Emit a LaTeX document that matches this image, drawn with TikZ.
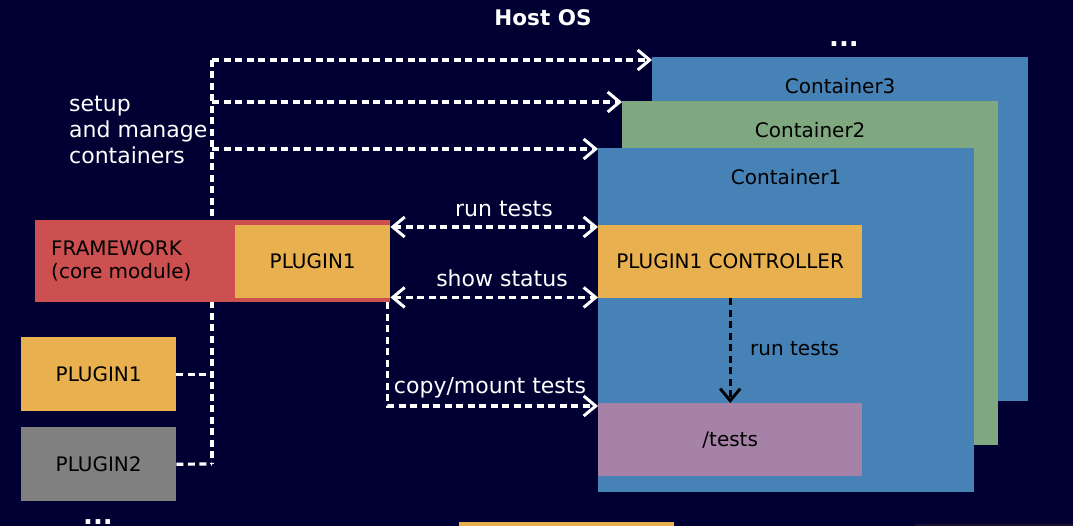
\documentclass[tikz,border=0pt]{standalone}
\usepackage{fontspec}
\setmainfont{DejaVu Sans}
\usetikzlibrary{calc,arrows.meta}

\definecolor{hostbg}{RGB}{0,0,51}
\definecolor{ctblue}{RGB}{70,130,182}
\definecolor{ctgreen}{RGB}{128,168,128}
\definecolor{plorange}{RGB}{232,176,78}
\definecolor{fwred}{RGB}{205,80,80}
\definecolor{tspurple}{RGB}{166,130,168}
\definecolor{plgray}{RGB}{128,128,128}
\definecolor{shadow}{RGB}{30,14,50}

\tikzset{
  box/.style={rectangle, draw=none, inner sep=0pt, anchor=north west},
  boxtext/.style={text=black, font=\fontsize{20}{23}\selectfont},
  lbl/.style={text=white, font=\fontsize{22}{26}\selectfont, inner sep=0pt},
  dots/.style={text=white, font=\fontsize{26}{26}\selectfont\bfseries, inner sep=0pt},
  conn/.style={white, line width=3.2pt, dash pattern=on 7pt off 4.5pt},
  tip/.style={Straight Barb[length=12pt,width=20pt,line width=3pt]},
  arr/.style={-{Straight Barb[length=12pt,width=20pt,line width=3pt]}},
  darr/.style={{Straight Barb[length=12pt,width=20pt,line width=3pt]}-{Straight Barb[length=12pt,width=20pt,line width=3pt]}}
}

\begin{document}
\begin{tikzpicture}[x=1pt,y=-1pt]
  \fill[hostbg] (0,0) rectangle (1073,526);
  \useasboundingbox (0,0) rectangle (1073,526);

  \node[lbl, font=\fontsize{21.5}{24}\selectfont\bfseries] (host) at (543,18) {Host OS};
  \node[dots] (topdots) at (844,44) {...};

  % containers, back to front
  \node[box, fill=ctblue, minimum width=376pt, minimum height=344pt] (c3) at (652,57) {};
  \node[box, fill=ctgreen, minimum width=376pt, minimum height=344pt] (c2) at (622,101) {};
  \node[box, fill=ctblue, minimum width=376pt, minimum height=344pt] (c1) at (598,148) {};
  \node[boxtext] at ($(c3.north)+(0,29)$) {Container3};
  \node[boxtext] at ($(c2.north)+(0,29)$) {Container2};
  \node[boxtext] at ($(c1.north)+(0,29)$) {Container1};

  \node[box, fill=plorange, minimum width=264pt, minimum height=73pt] (ctrl) at (598,225) {};
  \node[boxtext] at (ctrl.center) {PLUGIN1 CONTROLLER};
  \node[box, fill=tspurple, minimum width=264pt, minimum height=73pt] (tests) at (598,403) {};
  \node[boxtext] at (tests.center) {/tests};

  % bus line to the containers
  \coordinate (bustop) at (212,60);
  \coordinate (busbot) at (212,464);
  \draw[conn] (bustop) -- (busbot);
  \draw[conn,arr] (bustop) -- (bustop -| c3.west);
  \draw[conn,arr] (212,102) -- ($(c2.north west)+(0,1)$);
  \draw[conn,arr] (212,149) -- ($(c1.north west)+(0,1)$);
  \node[lbl, anchor=west, align=left] (setup) at (69,130) {setup\\and manage\\containers};

  % framework with its plugin
  \node[box, fill=fwred, minimum width=355pt, minimum height=82pt] (fw) at (35,220) {};
  \node[boxtext, anchor=west, align=left, inner sep=0pt] at (51,261) {FRAMEWORK\\(core module)};
  \node[box, fill=plorange, minimum width=155pt, minimum height=73pt] (fp1) at (235,225) {};
  \node[boxtext] at (fp1.center) {PLUGIN1};

  % plugins
  \node[box, fill=plorange, minimum width=155pt, minimum height=74pt] (p1) at (21,337) {};
  \node[boxtext] at (p1.center) {PLUGIN1};
  \node[box, fill=plgray, minimum width=155pt, minimum height=74pt] (p2) at (21,427) {};
  \node[boxtext] at (p2.center) {PLUGIN2};
  \draw[conn] (p1.east) -- (p1.east -| bustop);
  \draw[conn] (p2.east) -- (busbot);
  \node[dots] (botdots) at (98,522) {...};

  % framework <-> controller
  \draw[conn,darr] ($(fp1.north east)+(0,2)$) -- ($(ctrl.north west)+(0,2)$);
  \node[lbl] at (504,209) {run tests};
  \draw[conn,darr] ($(fp1.south east)+(0,-1)$) -- ($(ctrl.south west)+(0,-1)$);
  \node[lbl] at (502,278) {show status};
  \draw[conn,arr] ($(fw.south east)+(-3,0)$) |- ($(tests.north west)+(0,3)$);
  \node[lbl] at (490,388) {copy/mount tests};

  % controller -> tests
  \draw[conn,arr,black] (ctrl.south) -- (tests.north);
  \node[boxtext, anchor=west, inner sep=0pt] at (750,349) {run tests};

  % cut-off boxes at the bottom edge
  \fill[plorange] (459,522) rectangle (674,526);
  \fill[shadow] (915,524) rectangle (1073,526);
\end{tikzpicture}
\end{document}
